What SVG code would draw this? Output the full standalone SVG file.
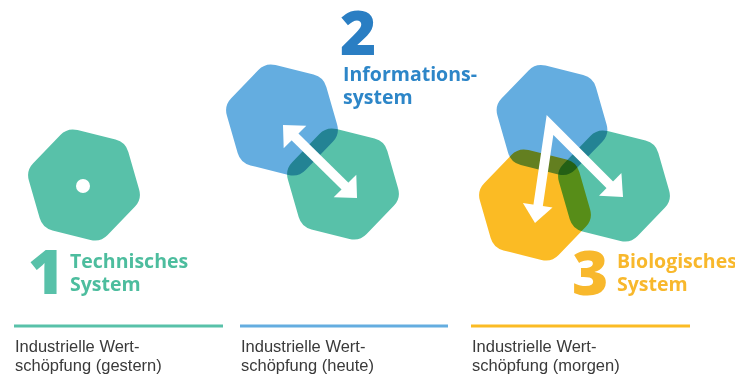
<svg xmlns="http://www.w3.org/2000/svg" xmlns:xlink="http://www.w3.org/1999/xlink" width="735" height="380" viewBox="0 0 735 380">
  <style>
    .hex { mix-blend-mode: multiply; }
    .teal { fill: #58c1a9; }
    .blue { fill: #64ade0; }
    .yellow { fill: #fbbb24; }
    .num { font-family: "Open Sans", "Liberation Sans", sans-serif; font-weight: 800; font-size: 62px; }
    .title { font-family: "Open Sans", "Liberation Sans", sans-serif; font-weight: 700; font-size: 19.5px; }
    .caption { font-family: "Liberation Sans", "Open Sans", sans-serif; font-weight: 400; font-size: 16.5px; fill: #3a3a3a; }
    .shaft { fill: none; stroke: #ffffff; stroke-width: 9.5; stroke-linejoin: miter; stroke-miterlimit: 6; }
    .head { fill: #ffffff; }
    .rule { stroke-width: 3; }
  </style>
  <defs>
    <!-- rounded hexagon, radius 58, turned 14 degrees -->
    <path id="hexShape" d="M-6.29,-53.33 L30.59,-44.14 Q40.29,-41.72 43.05,-32.11 L53.52,4.42 Q56.28,14.03 49.33,21.22 L22.94,48.56 Q15.99,55.75 6.29,53.33 L-30.59,44.14 Q-40.29,41.72 -43.05,32.11 L-53.52,-4.42 Q-56.28,-14.03 -49.33,-21.22 L-22.94,-48.56 Q-15.99,-55.75 -6.29,-53.33 Z"/>
  </defs>

  <rect width="735" height="380" fill="#ffffff"/>

  <!-- Stage 1: technical system -->
  <g id="stage1">
    <use xlink:href="#hexShape" class="hex teal" transform="translate(84,185) scale(1.03)"/>
    <circle cx="83" cy="186" r="7" fill="#ffffff"/>
    <text class="num" x="28" y="294" fill="#58c1a9">1</text>
    <text class="title" x="70" y="268" fill="#4dbd9e">Technisches</text>
    <text class="title" x="70" y="291" fill="#4dbd9e">System</text>
  </g>

  <!-- Stage 2: information system -->
  <g id="stage2">
    <use xlink:href="#hexShape" class="hex blue" transform="translate(282,120) scale(1.03)"/>
    <use xlink:href="#hexShape" class="hex teal" transform="translate(343,184) scale(1.03)"/>
    <text class="num" x="340" y="55" fill="#2a7ec3">2</text>
    <text class="title" x="343" y="81" fill="#2d86c8">Informations-</text>
    <text class="title" x="343" y="104" fill="#2d86c8">system</text>
  </g>

  <!-- Stage 3: biological system -->
  <g id="stage3">
    <use xlink:href="#hexShape" class="hex blue" transform="translate(552,120) scale(1.02)"/>
    <use xlink:href="#hexShape" class="hex teal" transform="translate(614,186) scale(1.03)"/>
    <use xlink:href="#hexShape" class="hex yellow" transform="translate(535,205) scale(1.03)"/>
    <text class="num" x="572" y="295" fill="#f8b82c">3</text>
    <text class="title" x="617" y="268" fill="#f8b82c">Biologisches</text>
    <text class="title" x="617" y="291" fill="#f8b82c">System</text>
  </g>

  <!-- flows between the systems -->
  <g id="connectors">
    <line class="shaft" x1="290" y1="132" x2="350" y2="191"/>
    <polygon class="head" points="283,125 306.3,125.7 283.7,148.3"/>
    <polygon class="head" points="357,198 356.3,174.7 333.7,197.3"/>

    <polyline class="shaft" points="537.9,207 550,125 611,186"/>
    <polygon class="head" points="535,223 552.5,207.5 522.9,202.9"/>
    <polygon class="head" points="623,197 599,195.8 621.4,173"/>
  </g>

  <!-- captions -->
  <g id="caption1">
    <line class="rule" x1="14" y1="326" x2="223" y2="326" stroke="#58c1a9"/>
    <text class="caption" x="15" y="351.5">Industrielle Wert-</text>
    <text class="caption" x="15" y="370.5">schöpfung (gestern)</text>
  </g>
  <g id="caption2">
    <line class="rule" x1="240" y1="326" x2="448" y2="326" stroke="#64ade0"/>
    <text class="caption" x="241" y="351.5">Industrielle Wert-</text>
    <text class="caption" x="241" y="370.5">schöpfung (heute)</text>
  </g>
  <g id="caption3">
    <line class="rule" x1="471" y1="326" x2="690" y2="326" stroke="#fbbb24"/>
    <text class="caption" x="472" y="351.5">Industrielle Wert-</text>
    <text class="caption" x="472" y="370.5">schöpfung (morgen)</text>
  </g>
</svg>
